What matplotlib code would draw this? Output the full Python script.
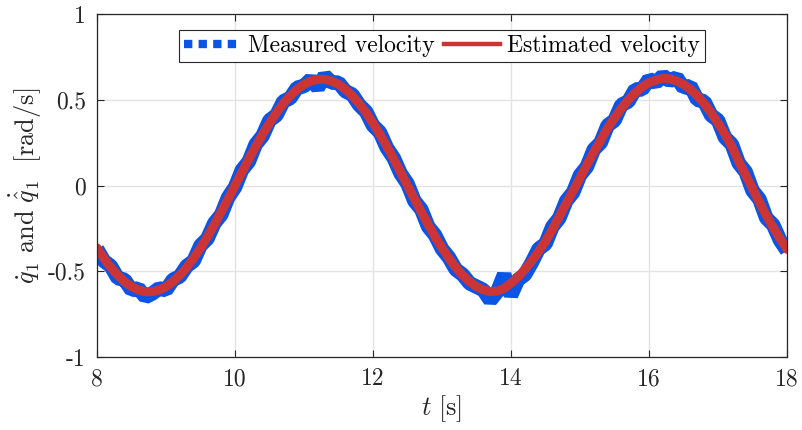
import matplotlib
matplotlib.use("Agg")
import matplotlib.pyplot as plt
from matplotlib.lines import Line2D
import numpy as np

plt.rcParams['font.family'] = ['cmr10', 'DejaVu Serif']
plt.rcParams['mathtext.fontset'] = 'cm'
plt.rcParams['axes.unicode_minus'] = False

# time base [s], 0.1 s steps from 8 to 18
t = np.round(np.arange(80, 181) * 0.1, 1)

# estimated velocity [rad/s]
estimated = [
    -0.364, -0.424, -0.478, -0.523, -0.561, -0.590, -0.609, -0.619, -0.619, -0.609,
    -0.590, -0.561, -0.523, -0.478, -0.424, -0.364, -0.299, -0.228, -0.154, -0.078,
    0.000, 0.078, 0.154, 0.228, 0.299, 0.364, 0.424, 0.478, 0.523, 0.561,
    0.590, 0.609, 0.619, 0.619, 0.609, 0.590, 0.561, 0.523, 0.478, 0.424,
    0.364, 0.299, 0.228, 0.154, 0.078, 0.000, -0.078, -0.154, -0.228, -0.299,
    -0.364, -0.424, -0.478, -0.523, -0.561, -0.590, -0.609, -0.619, -0.615, -0.600,
    -0.570, -0.535, -0.490, -0.440, -0.385, -0.325, -0.255, -0.180, -0.105, -0.030,
    0.045, 0.120, 0.195, 0.265, 0.335, 0.395, 0.450, 0.500, 0.540, 0.575,
    0.600, 0.615, 0.625, 0.622, 0.610, 0.590, 0.561, 0.523, 0.478, 0.424,
    0.364, 0.299, 0.228, 0.140, 0.062, -0.018, -0.098, -0.175, -0.245, -0.310,
    -0.372,
]

# measured velocity [rad/s] (quantised, noisy)
measured = [
    -0.37, -0.44, -0.47, -0.54, -0.55, -0.61, -0.60, -0.65, -0.63, -0.60,
    -0.61, -0.55, -0.53, -0.47, -0.44, -0.35, -0.31, -0.22, -0.17, -0.07,
    -0.01, 0.09, 0.14, 0.24, 0.29, 0.38, 0.41, 0.49, 0.51, 0.57,
    0.58, 0.62, 0.57, 0.64, 0.60, 0.60, 0.55, 0.53, 0.47, 0.43,
    0.35, 0.31, 0.22, 0.16, 0.07, 0.01, -0.09, -0.14, -0.24, -0.29,
    -0.37, -0.42, -0.49, -0.52, -0.57, -0.59, -0.61, -0.67, -0.62, -0.52,
    -0.64, -0.55, -0.52, -0.45, -0.37, -0.34, -0.24, -0.19, -0.09, -0.04,
    0.06, 0.11, 0.21, 0.25, 0.35, 0.38, 0.47, 0.49, 0.56, 0.56,
    0.62, 0.60, 0.64, 0.61, 0.63, 0.57, 0.58, 0.50, 0.49, 0.41,
    0.38, 0.28, 0.24, 0.13, 0.08, -0.03, -0.08, -0.19, -0.23, -0.32,
    -0.38,
]

x_ticks = [8, 10, 12, 14, 16, 18]
y_ticks = [-1, -0.5, 0, 0.5, 1]
y_tick_labels = ['-1', '-0.5', '0', '0.5', '1']

blue = '#0a55e6'
red = '#cc3535'

fig = plt.figure(figsize=(8.03, 4.30), dpi=100)
ax = fig.add_axes([0.1208, 0.1698, 0.8593, 0.7976])

ax.plot(t, measured, color=blue, lw=10.5, solid_joinstyle='bevel', solid_capstyle='butt')
ax.plot(t, estimated, color=red, lw=6.5, solid_joinstyle='round', solid_capstyle='round')

ax.set_xlim(8, 18)
ax.set_ylim(-1, 1)
ax.set_xticks(x_ticks)
ax.set_xticklabels([str(v) for v in x_ticks])
ax.set_yticks(y_ticks)
ax.set_yticklabels(y_tick_labels)
ax.tick_params(direction='in', length=5, width=0.8, top=True, right=True,
               labelsize=17, colors='#262626', pad=8)
ax.grid(True, color='#e3e3e3', lw=1)
ax.set_axisbelow(True)
for s in ax.spines.values():
    s.set_color('#262626')
    s.set_linewidth(0.9)

ax.set_xlabel(r'$t\ [\mathrm{s}]$', fontsize=19, color='#262626', labelpad=2)
ax.set_ylabel(r'$\dot{q}_1\ \mathrm{and}\ \dot{\hat{q}}_1\ \ [\mathrm{rad/s}]$',
              fontsize=19, color='#262626', labelpad=3)

handles = [
    Line2D([], [], color=blue, lw=6, linestyle=(0, (1, 0.75)), dash_capstyle='butt'),
    Line2D([], [], color=red, lw=3.2),
]
leg = ax.legend(handles, ['Measured velocity', 'Estimated velocity'], ncol=2,
                loc='upper center', bbox_to_anchor=(0.5, 0.953), fontsize=17,
                frameon=True, fancybox=False, edgecolor='#262626', framealpha=1,
                handlelength=2.4, handletextpad=0.3, columnspacing=0.4,
                borderpad=0.2, borderaxespad=0)
leg.get_frame().set_linewidth(0.8)

fig.savefig('out.png', dpi=100)
